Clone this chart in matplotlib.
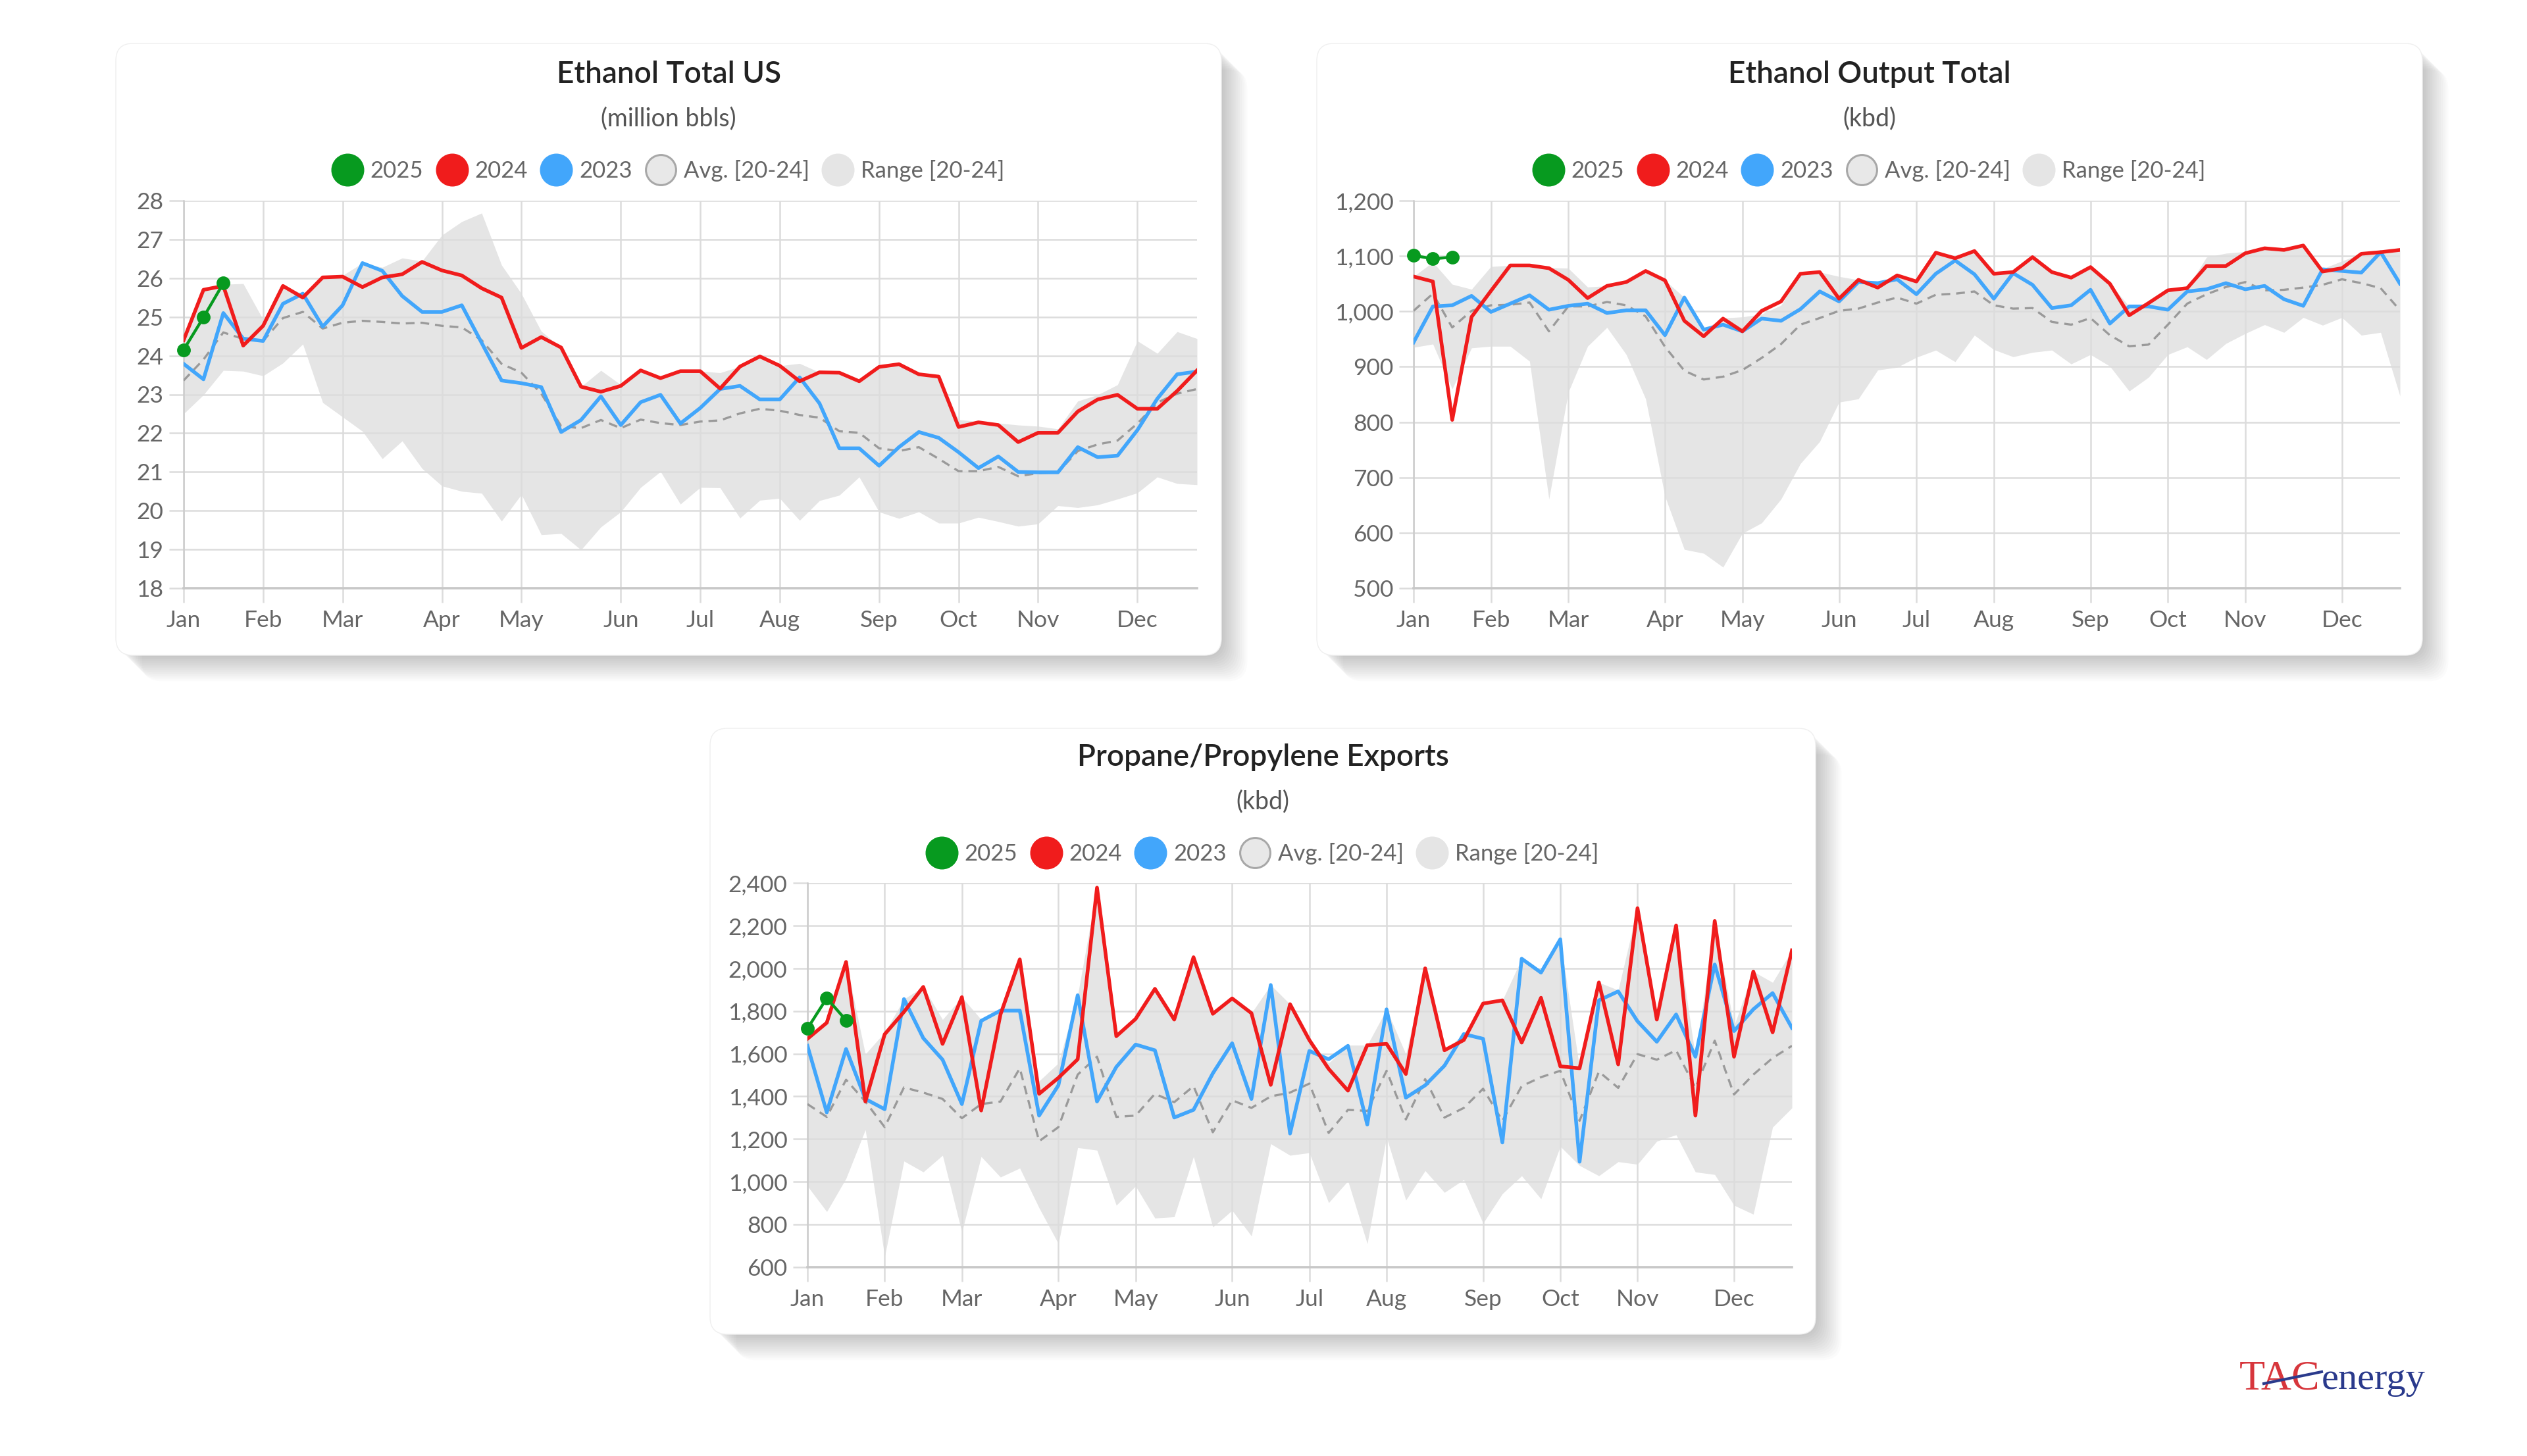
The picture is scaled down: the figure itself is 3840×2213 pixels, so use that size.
import numpy as np
import matplotlib
matplotlib.use("Agg")
import matplotlib.pyplot as plt
from matplotlib.patches import FancyBboxPatch
from matplotlib.lines import Line2D
from matplotlib.ticker import FuncFormatter

W, H = 3840, 2213

# x axis: 52 weekly points, month label on first week of each month
weeks = np.arange(52)
month_weeks = [0, 4, 8, 13, 17, 22, 26, 30, 35, 39, 43, 48]
month_labels = ["Jan", "Feb", "Mar", "Apr", "May", "Jun",
                "Jul", "Aug", "Sep", "Oct", "Nov", "Dec"]
legend_labels = ["2025", "2024", "2023", "Avg. [20-24]", "Range [20-24]"]

# Ethanol Total US (million bbls)
eth_2025 = [24.15, 24.99, 25.87]
eth_2024 = [24.4, 25.7, 25.8, 24.26, 24.77, 25.8, 25.5, 26.02, 26.04, 25.77, 26.02, 26.1, 26.42,
            26.2, 26.07, 25.74, 25.5, 24.2, 24.48, 24.21, 23.2, 23.07, 23.22, 23.62, 23.42, 23.6,
            23.6, 23.15, 23.72, 23.98, 23.74, 23.34, 23.57, 23.56, 23.34, 23.71, 23.78, 23.52, 23.46,
            22.16, 22.28, 22.21, 21.77, 22.01, 22.01, 22.56, 22.87, 22.99, 22.63, 22.63, 23.09, 23.62]
eth_2023 = [23.79, 23.39, 25.1, 24.44, 24.38, 25.34, 25.6, 24.75, 25.3, 26.39, 26.19, 25.54, 25.13,
            25.13, 25.3, 24.33, 23.36, 23.29, 23.19, 22.03, 22.34, 22.95, 22.21, 22.8, 22.99, 22.25,
            22.65, 23.14, 23.22, 22.87, 22.87, 23.44, 22.77, 21.61, 21.61, 21.16, 21.64, 22.03, 21.88,
            21.51, 21.1, 21.4, 21.0, 20.99, 20.99, 21.64, 21.38, 21.42, 22.08, 22.89, 23.52, 23.59]
eth_avg = [23.36, 23.9, 24.6, 24.43, 24.38, 24.97, 25.13, 24.7, 24.85, 24.9, 24.87, 24.83, 24.85,
           24.77, 24.73, 24.4, 23.79, 23.56, 23.02, 22.18, 22.13, 22.34, 22.13, 22.35, 22.26, 22.21,
           22.3, 22.33, 22.51, 22.63, 22.58, 22.47, 22.4, 22.05, 22.01, 21.61, 21.54, 21.64, 21.34,
           21.02, 21.02, 21.13, 20.89, 20.97, 20.99, 21.54, 21.71, 21.81, 22.25, 22.79, 23.02, 23.14]
eth_hi = [24.4, 25.7, 25.84, 25.86, 24.93, 25.8, 25.6, 26.02, 26.07, 26.39, 26.28, 26.52, 26.44,
          27.11, 27.46, 27.68, 26.34, 25.6, 24.63, 24.21, 23.2, 23.62, 23.25, 23.62, 23.42, 23.6,
          23.6, 23.56, 23.72, 23.98, 23.74, 23.8, 23.57, 23.56, 23.34, 23.71, 23.78, 23.52, 23.46,
          22.35, 22.3, 22.26, 22.21, 22.18, 22.11, 22.83, 22.99, 23.25, 24.38, 24.06, 24.62, 24.44]
eth_lo = [22.5, 22.99, 23.62, 23.6, 23.48, 23.81, 24.3, 22.79, 22.42, 22.05, 21.34, 21.8, 21.09,
          20.64, 20.5, 20.45, 19.73, 20.42, 19.38, 19.41, 18.99, 19.58, 19.97, 20.6, 21.01, 20.17,
          20.6, 20.59, 19.81, 20.27, 20.32, 19.75, 20.26, 20.4, 20.87, 19.97, 19.8, 19.97, 19.68,
          19.68, 19.83, 19.72, 19.6, 19.66, 20.13, 20.08, 20.15, 20.3, 20.46, 20.87, 20.7, 20.67]

# Ethanol Output Total (kbd)
out_2025 = [1101, 1095, 1098]
out_2024 = [1063, 1054, 804, 990, 1037, 1083, 1083, 1078, 1057, 1024, 1046, 1053, 1073,
            1056, 983, 955, 987, 964, 1001, 1018, 1068, 1071, 1023, 1057, 1043, 1065,
            1054, 1106, 1096, 1109, 1068, 1071, 1098, 1071, 1061, 1080, 1050, 993, 1015,
            1038, 1042, 1082, 1082, 1105, 1114, 1111, 1119, 1072, 1078, 1104, 1107, 1111]
out_2023 = [944, 1009, 1011, 1028, 999, 1014, 1029, 1003, 1010, 1014, 997, 1002, 1002,
            957, 1025, 967, 976, 964, 987, 983, 1004, 1036, 1018, 1053, 1051, 1058,
            1031, 1068, 1092, 1067, 1023, 1069, 1048, 1006, 1011, 1039, 978, 1009, 1009,
            1003, 1036, 1040, 1051, 1040, 1046, 1022, 1010, 1076, 1073, 1070, 1107, 1050]
out_avg = [1001, 1032, 971, 1001, 1011, 1012, 1016, 964, 1009, 1009, 1017, 1011, 991,
           936, 893, 877, 882, 894, 916, 941, 976, 988, 1001, 1005, 1016, 1025,
           1014, 1030, 1032, 1036, 1011, 1005, 1006, 981, 976, 988, 957, 937, 940,
           976, 1014, 1031, 1044, 1053, 1038, 1039, 1043, 1048, 1058, 1051, 1042, 1002]
out_hi = [1063, 1089, 1049, 1040, 1081, 1083, 1083, 1079, 1078, 1044, 1046, 1053, 1073,
          1056, 1025, 967, 988, 990, 995, 1011, 1068, 1071, 1063, 1057, 1051, 1065,
          1054, 1106, 1096, 1109, 1068, 1071, 1098, 1071, 1061, 1080, 1050, 1009, 1015,
          1038, 1042, 1098, 1105, 1108, 1114, 1111, 1119, 1077, 1091, 1104, 1107, 1111]
out_lo = [935, 941, 860, 934, 937, 937, 910, 661, 854, 937, 971, 922, 842,
          666, 570, 563, 538, 599, 618, 661, 725, 765, 836, 842, 894, 899,
          917, 930, 909, 957, 931, 918, 926, 930, 905, 922, 901, 856, 881,
          922, 936, 913, 942, 960, 976, 962, 989, 975, 989, 957, 962, 847]

# Propane/Propylene Exports (kbd)
exp_2025 = [1718, 1860, 1757]
exp_2024 = [1670, 1745, 2030, 1376, 1691, 1796, 1913, 1646, 1865, 1334, 1784, 2042, 1412,
            1487, 1574, 2378, 1682, 1763, 1904, 1760, 2052, 1787, 1859, 1790, 1454, 1832,
            1664, 1529, 1427, 1640, 1646, 1505, 2000, 1616, 1664, 1835, 1850, 1652, 1862,
            1541, 1532, 1934, 1550, 2282, 1760, 2201, 1310, 2222, 1586, 1985, 1700, 2084]
exp_2023 = [1637, 1325, 1622, 1388, 1340, 1856, 1673, 1572, 1364, 1754, 1802, 1802, 1310,
            1452, 1874, 1376, 1538, 1643, 1616, 1301, 1337, 1508, 1649, 1388, 1922, 1226,
            1613, 1574, 1637, 1268, 1808, 1394, 1452, 1544, 1692, 1670, 1184, 2045, 1980,
            2136, 1094, 1850, 1892, 1752, 1656, 1784, 1586, 2018, 1706, 1808, 1884, 1721]
exp_avg = [1364, 1304, 1478, 1376, 1256, 1442, 1418, 1388, 1298, 1364, 1376, 1532, 1190,
           1256, 1502, 1586, 1304, 1310, 1412, 1373, 1448, 1232, 1382, 1346, 1400, 1418,
           1460, 1229, 1337, 1332, 1520, 1292, 1481, 1301, 1346, 1436, 1286, 1448, 1490,
           1520, 1286, 1516, 1440, 1598, 1572, 1616, 1440, 1661, 1409, 1502, 1580, 1637]
exp_hi = [1670, 1745, 2030, 1598, 1700, 1856, 1913, 1760, 1865, 1760, 1802, 2042, 1472,
          1556, 1874, 2378, 1682, 1763, 1904, 1760, 2052, 1787, 1859, 1790, 1922, 1832,
          1670, 1556, 1640, 1640, 1808, 1598, 2000, 1616, 1692, 1835, 1850, 2045, 1980,
          2136, 1532, 1934, 1898, 2282, 1760, 2201, 1586, 2222, 1730, 1985, 1934, 2084]
exp_lo = [980, 860, 1016, 1244, 650, 1097, 1046, 1124, 764, 1118, 1022, 1064, 878,
          710, 1160, 1148, 890, 980, 830, 836, 1118, 788, 866, 746, 1178, 1124,
          1136, 902, 1004, 710, 1208, 914, 1052, 950, 1010, 806, 944, 1028, 920,
          1166, 1076, 1028, 1094, 1082, 1190, 1220, 1046, 1034, 890, 848, 1256, 1346]

C_2025 = "#079a1f"
C_2024 = "#f01c1c"
C_2023 = "#42a6fb"
C_AVG = "#9a9a9a"
C_RANGE = "#e5e5e5"
C_GRID = "#dcdcdc"
C_TEXT = "#666666"

plt.rcParams["font.family"] = ["Lato", "DejaVu Sans"]

fig = plt.figure(figsize=(W / 100, H / 100), dpi=100)
fig.patch.set_facecolor("white")

# background layer in pixel coords (y down) for cards, titles and logo
bg = fig.add_axes([0, 0, 1, 1])
bg.set_xlim(0, W)
bg.set_ylim(H, 0)
bg.axis("off")


def card(x0, y0, x1, y1):
    # soft shadow towards bottom-right
    for i in range(14):
        off = 3 + i * 2.8
        bg.add_patch(FancyBboxPatch((x0 + off, y0 + off), x1 - x0, y1 - y0,
                                    boxstyle="round,pad=0,rounding_size=30",
                                    fc="black", ec="none", alpha=0.015, zorder=1))
    bg.add_patch(FancyBboxPatch((x0, y0), x1 - x0, y1 - y0,
                                boxstyle="round,pad=0,rounding_size=26",
                                fc="white", ec="#efefef", lw=1, zorder=2))


def chart(box, cx, ty, title, unit, d25, d24, d23, avg, lo, hi, yticks, fmt):
    x0, y0, x1, y1 = box
    bg.text(cx, ty, title, ha="center", va="center", fontsize=33,
            fontweight="semibold", color="#222222", zorder=3)
    bg.text(cx, ty + 67, unit, ha="center", va="center", fontsize=27,
            color="#555555", zorder=3)

    ax = fig.add_axes([x0 / W, 1 - y1 / H, (x1 - x0) / W, (y1 - y0) / H])
    ax.set_facecolor("none")
    ax.fill_between(weeks, lo, hi, color=C_RANGE, lw=0, zorder=1)
    ax.plot(weeks, avg, color=C_AVG, lw=2.4, ls=(0, (4, 2.7)), zorder=3)
    ax.plot(weeks, d23, color=C_2023, lw=4, zorder=4)
    ax.plot(weeks, d24, color=C_2024, lw=4, zorder=5)
    ax.plot(weeks[:len(d25)], d25, color=C_2025, lw=3.2, marker="o", ms=14,
            zorder=6, clip_on=False)

    ax.set_xlim(0, 51)
    ax.set_ylim(yticks[0], yticks[-1])
    ax.set_xticks(month_weeks, month_labels)
    ax.set_yticks(yticks)
    ax.yaxis.set_major_formatter(fmt)
    ax.grid(True, color=C_GRID, lw=1.8)
    ax.set_axisbelow("line")
    for s in ["top", "right"]:
        ax.spines[s].set_visible(False)
    ax.spines["left"].set_color("#cccccc")
    ax.spines["left"].set_linewidth(1.8)
    ax.spines["bottom"].set_color("#c8c8c8")
    ax.spines["bottom"].set_linewidth(2.6)
    ax.tick_params(length=16, width=1.8, color=C_GRID, labelsize=25.5,
                   labelcolor=C_TEXT)
    ax.tick_params(axis="y", pad=6)
    ax.tick_params(axis="x", pad=8)

    handles = [Line2D([], [], ls="none", marker="o", ms=35, mfc=c, mec=c)
               for c in (C_2025, C_2024, C_2023)]
    handles.append(Line2D([], [], ls="none", marker="o", ms=33, mfc="#e8e8e8",
                          mec="#a8a8a8", mew=2.2))
    handles.append(Line2D([], [], ls="none", marker="o", ms=35, mfc=C_RANGE,
                          mec=C_RANGE))
    ax.legend(handles, legend_labels, loc="center",
              bbox_to_anchor=(cx / W, 1 - (ty + 147) / H),
              bbox_transform=fig.transFigure, ncol=5, frameon=False,
              fontsize=25, labelcolor=C_TEXT, handlelength=1.3,
              handletextpad=0.35, columnspacing=0.6, borderpad=0)
    return ax


plain = FuncFormatter(lambda v, p: f"{v:.0f}")
comma = FuncFormatter(lambda v, p: f"{v:,.0f}")

card(176, 66, 1856, 996)
card(2001, 66, 3681, 996)
card(1079, 1107, 2759, 2028)

chart((279, 305, 1819, 894), 1016, 113, "Ethanol Total US", "(million bbls)",
      eth_2025, eth_2024, eth_2023, eth_avg, eth_lo, eth_hi,
      list(range(18, 29)), plain)
chart((2148, 305, 3647, 894), 2841, 113, "Ethanol Output Total", "(kbd)",
      out_2025, out_2024, out_2023, out_avg, out_lo, out_hi,
      list(range(500, 1201, 100)), comma)
chart((1227, 1342, 2723, 1926), 1919, 1151, "Propane/Propylene Exports", "(kbd)",
      exp_2025, exp_2024, exp_2023, exp_avg, exp_lo, exp_hi,
      list(range(600, 2401, 200)), comma)

# logo
bg.text(3403, 2111, "TAC", color="#d7363c", fontsize=46, family="Liberation Serif",
        va="baseline", ha="left", zorder=3)
bg.text(3528, 2111, "energy", color="#2a3a8c", fontsize=42, family="Liberation Serif",
        va="baseline", ha="left", zorder=3)
bg.plot([3440, 3528], [2103, 2085], color="#2a3a8c", lw=3, zorder=4)

fig.savefig("out.png", dpi=100, facecolor="white")
